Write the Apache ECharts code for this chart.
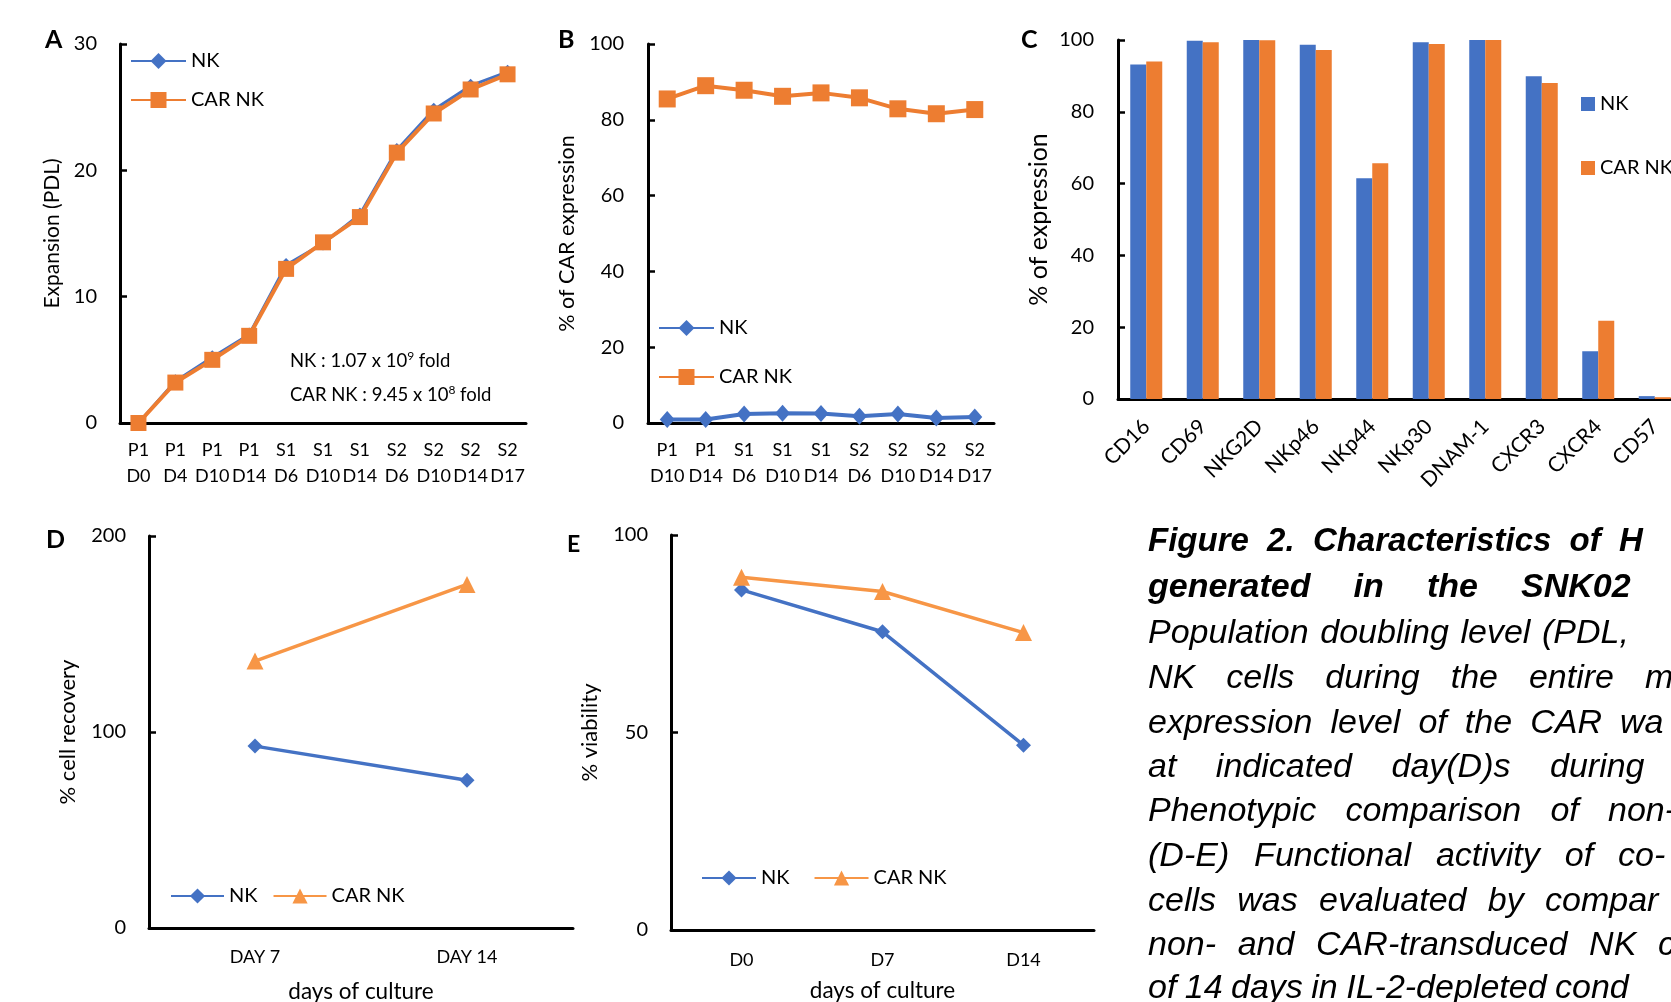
<!DOCTYPE html>
<html><head><meta charset="utf-8">
<script src="https://cdn.jsdelivr.net/npm/echarts@6/dist/echarts.min.js"></script>
<style>html,body{margin:0;padding:0;background:#fff}#c{width:1671px;height:1002px}</style>
</head><body><div id="c"></div>
<script>
// ---------- data ----------
const catsA = ['P1\nD0','P1\nD4','P1\nD10','P1\nD14','S1\nD6','S1\nD10','S1\nD14','S2\nD6','S2\nD10','S2\nD14','S2\nD17'];
const nkA  = [0, 3.3, 5.2, 7.0, 12.5, 14.2, 16.5, 21.6, 24.8, 26.7, 27.8];
const carA = [0, 3.2, 5.0, 6.9, 12.2, 14.3, 16.3, 21.4, 24.5, 26.4, 27.6];
const ticksA = [0, 30, 10];

const catsB = ['P1\nD10','P1\nD14','S1\nD6','S1\nD10','S1\nD14','S2\nD6','S2\nD10','S2\nD14','S2\nD17'];
const nkB  = [0.9, 0.9, 2.4, 2.6, 2.5, 1.8, 2.4, 1.3, 1.6];
const carB = [85.5, 89.0, 87.8, 86.2, 87.1, 85.8, 82.9, 81.6, 82.7];
const ticksB = [0, 100, 20];

const catsC = ['CD16','CD69','NKG2D','NKp46','NKp44','NKp30','DNAM-1','CXCR3','CXCR4','CD57'];
const nkC  = [93.2, 99.8, 100, 98.7, 61.5, 99.4, 100, 89.9, 13.3, 0.8];
const carC = [94.0, 99.4, 99.9, 97.2, 65.7, 98.9, 100, 88.0, 21.8, 0.5];
const ticksC = [0, 100, 20];

const catsD = ['DAY 7','DAY 14'];
const nkD  = [92.8, 75.4];
const carD = [136.2, 175.3];
const ticksD = [0, 200, 100];

const catsE = ['D0','D7','D14'];
const nkE  = [86.1, 75.5, 46.8];
const carE = [89.3, 85.7, 75.3];
const ticksE = [0, 100, 50];

// caption lines (justified text, clipped at the right edge)
const captionLines = [
  {bold:true,  size:33, base:553,  last:1619, t:'Figure 2. Characteristics of H'},
  {bold:true,  size:34, base:600,  last:1521, t:'generated in the SNK02'},
  {bold:false, size:34, base:645,  last:1542, t:'Population doubling level (PDL,'},
  {bold:false, size:34, base:690,  last:1645, t:'NK cells during the entire m'},
  {bold:false, size:34, base:735,  last:1620, t:'expression level of the CAR wa'},
  {bold:false, size:34, base:779,  last:1550, t:'at indicated day(D)s during'},
  {bold:false, size:34, base:823,  last:1608, t:'Phenotypic comparison of non-'},
  {bold:false, size:34, base:868,  last:1618, t:'(D-E) Functional activity of co-'},
  {bold:false, size:34, base:913,  last:1545, t:'cells was evaluated by compar'},
  {bold:false, size:34, base:957,  last:1658, t:'non- and CAR-transduced NK cells'},
  {bold:false, size:34, base:1000, last:1555, t:'of 14 days in IL-2-depleted cond'}
];

// ---------- styles ----------
const F = 'Lato';
const BLUE = '#4472C4', ORANGE = '#ED7D31', LORANGE = '#F79646';
const AXL = {show:true, lineStyle:{color:'#000', width:3}};

function yAx(gi, t, name, nameGap, nameSize, margin) {
  return {type:'value', gridIndex:gi, min:t[0], max:t[1], interval:t[2],
    name:name, nameLocation:'middle', nameGap:nameGap, nameRotate:90,
    nameTextStyle:{fontFamily:F, fontSize:nameSize, color:'#000'},
    axisLine:AXL,
    axisTick:{show:true, inside:true, length:7, lineStyle:{color:'#000', width:2.5}},
    axisLabel:{fontFamily:F, fontSize:20, color:'#000', margin:margin},
    splitLine:{show:false}};
}
function xAx(gi, data, fs, margin, extra) {
  return Object.assign({type:'category', gridIndex:gi, data:data,
    axisLine:AXL, axisTick:{show:false},
    axisLabel:{interval:0, fontFamily:F, fontSize:fs, color:'#000', margin:margin, lineHeight:26},
    splitLine:{show:false}}, extra || {});
}
function line(name, xi, data, sym, size, color, width) {
  return {type:'line', name:name, xAxisIndex:xi, yAxisIndex:xi, data:data,
    symbol:sym, symbolSize:size, showAllSymbol:true,
    lineStyle:{color:color, width:width}, itemStyle:{color:color}};
}
const legText = {fontFamily:F, fontSize:20, color:'#000'};
const fmt = n => n.replace(' (D-E)', '');

// ---------- graphic texts ----------
const graphics = [];
function label(t, x, y, size) {
  graphics.push({type:'text', style:{text:t, x:x, y:y, fill:'#000',
    font:'bold ' + size + 'px Lato', textAlign:'left', textVerticalAlign:'middle'}});
}
label('A', 45, 40, 25); label('B', 558, 40, 25); label('C', 1021, 40, 25);
label('D', 46, 540, 25); label('E', 567, 545, 23);

const annRich = {n:{fontFamily:F, fontSize:18.5, lineHeight:22, fill:'#000'},
                 s:{fontFamily:F, fontSize:12, lineHeight:12, verticalAlign:'top', fill:'#000'}};
graphics.push({type:'text', style:{text:'{n|NK : 1.07 x 10}{s|9}{n| fold}', x:290, y:361, rich:annRich, textAlign:'left', textVerticalAlign:'middle'}});
graphics.push({type:'text', style:{text:'{n|CAR NK : 9.45 x 10}{s|8}{n| fold}', x:290, y:395, rich:annRich, textAlign:'left', textVerticalAlign:'middle'}});

// justified caption: spread word gaps so the last visible word starts where it does in the figure
const mctx = document.createElement('canvas').getContext('2d');
const CAP_LEFT = 1148;
captionLines.forEach(function (ln) {
  const fs = ln.size;
  const font = 'italic ' + (ln.bold ? 'bold ' : '') + fs + 'px "Liberation Sans"';
  mctx.font = font;
  const words = ln.t.split(' ');
  const ws = words.map(w => mctx.measureText(w).width);
  let used = 0;
  for (let i = 0; i < words.length - 1; i++) used += ws[i];
  const gap = (ln.last - CAP_LEFT - used) / (words.length - 1);
  let x = CAP_LEFT;
  words.forEach(function (w, i) {
    graphics.push({type:'text', style:{text:w, x:x, y:ln.base - 0.35 * fs, fill:'#000',
      font:font, textAlign:'left', textVerticalAlign:'middle'}});
    x += ws[i] + gap;
  });
});

// ---------- option ----------
const option = {
  animation:false,
  backgroundColor:'#fff',
  textStyle:{fontFamily:F, color:'#000'},
  grid:[
    {left:120, top:44, width:406, height:379, outerBoundsMode:'none'},
    {left:648, top:44, width:346, height:379, outerBoundsMode:'none'},
    {left:1118, top:40, width:565, height:359, outerBoundsMode:'none'},
    {left:149, top:536, width:424, height:392, outerBoundsMode:'none'},
    {left:671, top:535, width:423, height:395, outerBoundsMode:'none'}
  ],
  xAxis:[
    xAx(0, catsA, 18, 14),
    xAx(1, catsB, 18, 14),
    xAx(2, catsC, 21, 24, {axisLabel:{interval:0, rotate:45, fontFamily:F, fontSize:21, color:'#000', margin:24}}),
    xAx(3, catsD, 18, 16, {name:'days of culture', nameLocation:'middle', nameGap:52, nameTextStyle:{fontFamily:F, fontSize:22.5, color:'#000'}}),
    xAx(4, catsE, 18, 17, {name:'days of culture', nameLocation:'middle', nameGap:49, nameTextStyle:{fontFamily:F, fontSize:22.5, color:'#000'}})
  ],
  yAxis:[
    yAx(0, ticksA, 'Expansion (PDL)', 57, 21, 23),
    yAx(1, ticksB, '% of CAR expression', 70, 21.5, 24),
    yAx(2, ticksC, '% of expression', 67, 25, 24),
    yAx(3, ticksD, '% cell recovery', 70, 22, 23),
    yAx(4, ticksE, '% viability', 70, 22, 23)
  ],
  legend:[
    {left:130, top:51, orient:'vertical', padding:0, itemWidth:55, itemHeight:20, itemGap:19, selectedMode:false, textStyle:legText, data:['NK','CAR NK']},
    {left:658, top:318, orient:'vertical', padding:0, itemWidth:55, itemHeight:20, itemGap:29, selectedMode:false, textStyle:legText, data:['NK','CAR NK']},
    {left:1581, top:94, orient:'vertical', padding:0, itemWidth:14, itemHeight:14, itemGap:44, selectedMode:false, textStyle:legText,
      data:[{name:'NK', icon:'rect'}, {name:'CAR NK', icon:'rect'}]},
    {left:170, top:886, orient:'horizontal', padding:0, itemWidth:53, itemHeight:19, itemGap:15, selectedMode:false, textStyle:legText, formatter:fmt, data:['NK','CAR NK (D-E)']},
    {left:701, top:868, orient:'horizontal', padding:0, itemWidth:54, itemHeight:19, itemGap:24, selectedMode:false, textStyle:legText, formatter:fmt, data:['NK','CAR NK (D-E)']}
  ],
  series:[
    line('NK', 0, nkA, 'diamond', 14, BLUE, 3),
    line('CAR NK', 0, carA, 'rect', 16, ORANGE, 4),
    line('NK', 1, nkB, 'diamond', [15, 17], BLUE, 4),
    line('CAR NK', 1, carB, 'rect', 17, ORANGE, 4),
    {type:'bar', name:'NK', xAxisIndex:2, yAxisIndex:2, data:nkC, barWidth:16, barGap:'0%', itemStyle:{color:BLUE}},
    {type:'bar', name:'CAR NK', xAxisIndex:2, yAxisIndex:2, data:carC, barWidth:16, barGap:'0%', itemStyle:{color:ORANGE}},
    line('NK', 3, nkD, 'diamond', 15, BLUE, 3.5),
    line('CAR NK (D-E)', 3, carD, 'triangle', 17, LORANGE, 3.5),
    line('NK', 4, nkE, 'diamond', 15, BLUE, 3.5),
    line('CAR NK (D-E)', 4, carE, 'triangle', 17, LORANGE, 3.5)
  ],
  graphic:{elements:graphics}
};

const chart = echarts.init(document.getElementById('c'), null, {renderer:'canvas'});
chart.setOption(option);
</script></body></html>
